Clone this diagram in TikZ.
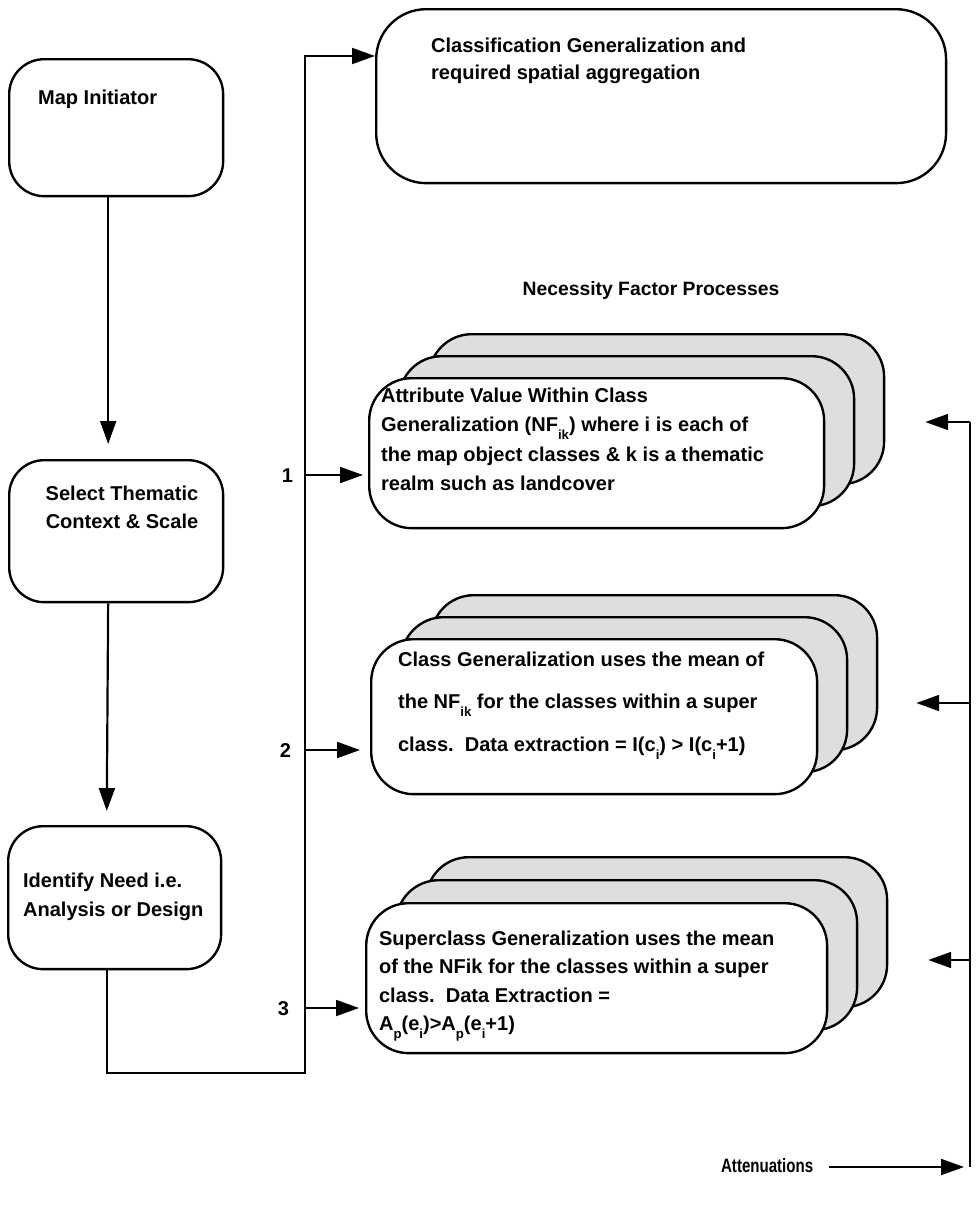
\documentclass[tikz,border=0pt]{standalone}
\usepackage{fontspec}
\setmainfont{Liberation Sans}
\newfontfamily\narrowsans{Liberation Sans}[FakeStretch=0.78]
\usetikzlibrary{arrows.meta}
% subscript set low and small, as in the printed formulas
\newcommand\lowsub[1]{\raisebox{-0.75ex}{\fontsize{7.5}{8}\selectfont #1}}
\begin{document}
\begin{tikzpicture}[x=0.02cm,y=-0.02cm,
  line width=1.25pt,
  arr/.style={-{Triangle[length=13pt,width=9pt]}},
  stepbox/.style={draw, line width=1.35pt, rounded corners=0.7cm, anchor=north west, inner sep=0pt},
  layer/.style={draw, line width=1.35pt, rounded corners=0.85cm, anchor=north west, inner sep=0pt, fill=black!13},
  front/.style={layer, fill=white},
  txt/.style={anchor=west, inner sep=0pt, text height=8.2pt, text depth=0pt,
    font=\fontsize{11.4}{14}\selectfont\bfseries},
  ctxt/.style={txt, anchor=center}]
\useasboundingbox (0,0) rectangle (980,1207);

% ---- left column: the user-side steps
\node[stepbox, minimum width=4.28cm, minimum height=2.74cm] (map) at (8,58) {};
\node[txt] (mapt) at (37,97) {Map Initiator};

\node[stepbox, minimum width=4.28cm, minimum height=2.84cm] (sel) at (8,459) {};
\node[ctxt] (selt1) at (122,493) {Select Thematic};
\node[ctxt] (selt2) at (122,521) {Context \& Scale};

\node[stepbox, minimum width=4.26cm, minimum height=2.86cm] (idn) at (7,825) {};
\node[txt] (idnt1) at (22,880) {Identify Need i.e.};
\node[txt] (idnt2) at (22,909) {Analysis or Design};

\draw[arr, shorten >=0.3cm] ([xshift=-0.16cm]map.south) -- ([xshift=-0.16cm]sel.north);
\draw[arr, shorten >=0.28cm] ([xshift=-0.16cm]sel.south) -- ([xshift=-0.16cm]idn.north);

% ---- classification box
\node[stepbox, rounded corners=1cm, minimum width=11.4cm, minimum height=3.48cm] (cls) at (375,8) {};
\node[txt] (clst1) at (430,45) {Classification Generalization and};
\node[txt] (clst2) at (430,72) {required spatial aggregation};

\node[ctxt, font=\fontsize{11}{14}\selectfont\bfseries] (nfp) at (651,288) {Necessity Factor Processes};

% ---- stack 1
\node[layer, minimum width=9.1cm, minimum height=3.0cm] (s1b) at (428,333) {};
\node[layer, minimum width=9.1cm, minimum height=3.0cm] (s1m) at (398,355) {};
\node[front, minimum width=9.1cm, minimum height=3.0cm] (s1f) at (368,377) {};
\foreach \t [count=\i] in {{Attribute Value Within Class},
  {Generalization (NF\lowsub{ik}) where i is each of},
  {the map object classes \& k is a thematic},
  {realm such as landcover}}
  \node[txt] (s1t\i) at (380,{395+29.5*(\i-1)}) {\t};

% ---- stack 2
\node[layer, minimum width=8.92cm, minimum height=3.1cm] (s2b) at (430,594) {};
\node[layer, minimum width=8.92cm, minimum height=3.1cm] (s2m) at (400,616) {};
\node[front, minimum width=8.92cm, minimum height=3.1cm] (s2f) at (370,638) {};
\foreach \t [count=\i] in {{Class Generalization uses the mean of},
  {the NF\lowsub{ik} for the classes within a super},
  {class.\ \ Data extraction = I(c\lowsub{i}) > I(c\lowsub{i}+1)}}
  \node[txt] (s2t\i) at (397,{659+42.5*(\i-1)}) {\t};

% ---- stack 3
\node[layer, minimum width=9.22cm, minimum height=3.0cm] (s3b) at (425,856) {};
\node[layer, minimum width=9.22cm, minimum height=3.0cm] (s3m) at (395,879) {};
\node[front, minimum width=9.22cm, minimum height=3.0cm] (s3f) at (365,902) {};
\foreach \t [count=\i] in {{Superclass Generalization uses the mean},
  {of the NFik for the classes within a super},
  {class.\ \ Data Extraction =},
  {A\lowsub{p}(e\lowsub{i})>A\lowsub{p}(e\lowsub{i}+1)}}
  \node[txt] (s3t\i) at (378,{938+28.5*(\i-1)}) {\t};

% ---- trunk from the identified need to every process
\coordinate (tb) at (305,1073);
\coordinate (tt) at (305,56);
\draw[arr] ([xshift=-0.16cm]idn.south) |- (tb) -- (tt) -- (cls.west |- tt);

\coordinate (b1) at (305,475);
\coordinate (b2) at (305,750);
\coordinate (b3) at (305,1008);
\draw[arr, shorten >=0.1cm] (b1) -- (s1f.west |- b1);
\draw[arr, shorten >=0.2cm] (b2) -- (s2f.west |- b2);
\draw[arr, shorten >=0.12cm] (b3) -- (s3f.west |- b3);
\node[txt, anchor=east] (n1) at (294,475) {1};
\node[txt, anchor=east] (n2) at (292,750) {2};
\node[txt, anchor=east] (n3) at (290,1008) {3};

% ---- attenuation feedback
\coordinate (f1) at (970,422);
\coordinate (f2) at (970,703);
\coordinate (f3) at (970,960);
\coordinate (fe) at (970,1167);
\draw (f1) -- (fe);
\draw[arr, shorten >=0.8cm] (f1) -- (s1b.east |- f1);
\draw[arr, shorten >=0.76cm] (f2) -- (s2b.east |- f2);
\draw[arr, shorten >=0.8cm] (f3) -- (s3b.east |- f3);
\node[txt, font=\fontsize{11}{14}\narrowsans\bfseries] (att) at (720,1165) {Attenuations};
\draw[arr, shorten >=0.12cm] ([xshift=0.3cm]att.east |- fe) -- (fe);
\end{tikzpicture}
\end{document}
